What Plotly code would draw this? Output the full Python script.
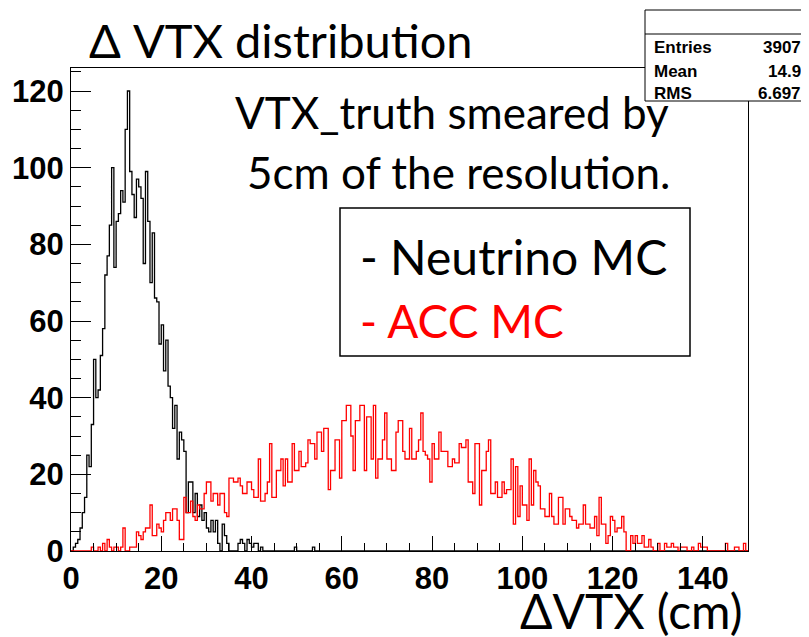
import plotly.graph_objects as go

# ---------------- data ----------------
X_MIN, X_MAX, BIN_WIDTH = 0.0, 150.0, 0.5

neutrino_mc = [
    0, 1, 2, 3, 6, 10, 14, 25, 22, 33,
    50, 40, 42, 51, 58, 72, 77, 85, 100, 74,
    86, 88, 94, 91, 110, 120, 99, 93, 87, 97,
    95, 92, 75, 99, 86, 70, 83, 66, 65, 54,
    59, 47, 55, 43, 40, 32, 38, 24, 31, 29,
    26, 10, 18, 18, 10, 15, 9, 12, 8, 10,
    6, 5, 8, 5, 8, 2, 0, 7, 4, 2,
    0, 0, 0, 0, 2, 3, 2, 0, 3, 2,
    1, 2, 2, 0, 1, 0, 0, 0, 0, 0,
    0, 0, 0, 0, 0, 0, 0, 0, 0, 1,
    0, 0, 0, 0, 0, 0, 0, 1, 0, 0,
    0, 0, 0, 0, 0, 0, 0, 0, 0, 0,
    0, 0, 0, 0, 0, 0, 0, 0, 0, 0,
    0, 0, 0, 0, 0, 0, 0, 0, 0, 0,
    0, 0, 0, 0, 0, 0, 0, 0, 0, 0,
    0, 0, 0, 0, 0, 0, 0, 0, 0, 0,
    0, 0, 0, 0, 0, 0, 0, 0, 0, 0,
    0, 0, 0, 0, 0, 0, 0, 0, 0, 0,
    0, 0, 0, 0, 0, 0, 0, 0, 0, 0,
    0, 0, 0, 0, 0, 0, 0, 0, 0, 0,
    0, 0, 0, 0, 0, 0, 0, 0, 0, 0,
    0, 0, 0, 0, 0, 0, 0, 0, 0, 0,
    0, 0, 0, 0, 0, 0, 0, 0, 0, 0,
    0, 0, 0, 0, 0, 0, 0, 0, 0, 0,
    0, 0, 0, 0, 0, 0, 0, 0, 0, 0,
    0, 0, 0, 0, 0, 0, 0, 0, 0, 0,
    0, 0, 0, 0, 0, 0, 0, 0, 0, 0,
    0, 0, 0, 0, 0, 0, 0, 0, 0, 0,
    0, 0, 0, 0, 0, 0, 0, 0, 0, 0,
    0, 0, 0, 0, 0, 0, 0, 0, 0, 0,
]

acc_mc = [
    0, 0, 0, 0, 0, 0, 0, 0, 0, 1,
    0, 0, 1, 0, 2, 0, 3, 1, 0, 1,
    1, 0, 1, 6, 0, 0, 1, 1, 1, 5,
    4, 3, 5, 6, 6, 12, 4, 4, 7, 6,
    5, 8, 10, 10, 8, 11, 11, 8, 3, 3,
    14, 10, 10, 13, 9, 8, 12, 11, 11, 15,
    18, 18, 13, 15, 15, 12, 15, 15, 10, 9,
    19, 19, 18, 18, 19, 17, 15, 15, 18, 18,
    16, 14, 14, 24, 13, 13, 15, 18, 28, 14,
    14, 21, 21, 24, 17, 24, 18, 18, 28, 21,
    21, 26, 22, 22, 23, 29, 28, 28, 24, 31,
    31, 26, 32, 32, 16, 21, 21, 29, 29, 19,
    34, 34, 38, 38, 30, 21, 34, 34, 38, 38,
    21, 35, 35, 24, 38, 19, 24, 24, 29, 36,
    24, 24, 21, 21, 31, 34, 34, 26, 24, 24,
    32, 24, 24, 26, 29, 36, 26, 25, 24, 18,
    28, 24, 24, 31, 26, 26, 26, 22, 22, 24,
    23, 23, 28, 27, 27, 29, 18, 18, 15, 28,
    28, 12, 21, 21, 26, 29, 15, 15, 18, 14,
    14, 18, 15, 16, 16, 24, 7, 22, 9, 17,
    12, 12, 8, 24, 12, 21, 18, 17, 11, 11,
    9, 9, 15, 9, 7, 7, 14, 14, 7, 11,
    11, 9, 8, 8, 6, 7, 7, 12, 7, 7,
    6, 6, 9, 4, 14, 7, 7, 2, 4, 9,
    8, 5, 6, 6, 9, 5, 0, 0, 4, 2,
    4, 2, 2, 4, 1, 1, 3, 1, 0, 0,
    2, 0, 0, 2, 1, 1, 2, 1, 1, 0,
    1, 1, 1, 0, 0, 1, 0, 0, 2, 1,
    1, 1, 0, 0, 0, 0, 0, 0, 0, 0,
    2, 0, 0, 0, 1, 1, 0, 0, 2, 0,
]

y_tick_vals = [0, 20, 40, 60, 80, 100, 120]
x_tick_vals = [0, 20, 40, 60, 80, 100, 120, 140]

stats_labels = ["Entries", "Mean", "RMS"]
stats_values = ["3907", "14.9", "6.697"]

# ---------------- figure ----------------
# the page body has an 8px margin, so the figure is shrunk by 8px and all
# reference pixel positions are mapped through the plot-area fractions below
OFF = 8
W, H = 809 - OFF, 637 - OFF
L, R, T, B = 71, 748, 68, 551  # plot area in reference (page) pixels


def px(x):
    return (x - L) / (R - L)


def py(y):
    return (B - y) / (B - T)


def step_xy(values):
    xs = [X_MIN + i * BIN_WIDTH for i in range(len(values))] + [X_MAX]
    ys = list(values) + [values[-1]]
    return xs, ys


fig = go.Figure()
for vals, col in [(neutrino_mc, "black"), (acc_mc, "#ff0000")]:
    xs, ys = step_xy(vals)
    fig.add_trace(go.Scatter(x=xs, y=ys, mode="lines", line=dict(color=col, width=1.3, shape="hv"),
                             showlegend=False, hoverinfo="skip"))

tick_font = dict(family="Liberation Sans", size=31, color="black", weight="bold")
fig.update_xaxes(range=[X_MIN, X_MAX], tickvals=x_tick_vals, ticks="inside", ticklen=15, tickwidth=1,
                 tickcolor="black", showline=True, linecolor="black", linewidth=1, mirror=True,
                 showgrid=False, zeroline=False, tickfont=tick_font, automargin=False,
                 minor=dict(dtick=5, ticks="inside", ticklen=8, tickcolor="black", tickwidth=1, showgrid=False))
fig.update_yaxes(range=[0, 126], tickvals=y_tick_vals, ticks="inside", ticklen=20, tickwidth=1,
                 tickcolor="black", showline=True, linecolor="black", linewidth=1, mirror=True,
                 showgrid=False, zeroline=False, tickfont=tick_font, automargin=False,
                 minor=dict(dtick=5, ticks="inside", ticklen=10, tickcolor="black", tickwidth=1, showgrid=False))

txt_font = "Lato"
ann = []
ann.append(dict(text="Δ VTX distribution", x=px(87), y=py(40), xanchor="left", yanchor="middle",
                font=dict(family=txt_font, size=47, color="black")))
ann.append(dict(text="VTX_truth smeared by", x=px(452), y=py(112), xanchor="center", yanchor="middle",
                font=dict(family=txt_font, size=44, color="black")))
ann.append(dict(text="5cm of the resolution.", x=px(458), y=py(172), xanchor="center", yanchor="middle",
                font=dict(family=txt_font, size=44, color="black")))
ann.append(dict(text="- Neutrino MC", x=px(358), y=py(256), xanchor="left", yanchor="middle",
                font=dict(family=txt_font, size=48, color="black")))
ann.append(dict(text="- ACC MC", x=px(358), y=py(320), xanchor="left", yanchor="middle",
                font=dict(family=txt_font, size=46, color="#ff0000")))
ann.append(dict(text="ΔVTX (cm)", x=px(745), y=py(610), xanchor="right", yanchor="middle",
                font=dict(family=txt_font, size=48, color="black")))
row_y = [47, 71, 94]
for lab, val, yy in zip(stats_labels, stats_values, row_y):
    ann.append(dict(text=lab, x=px(652), y=py(yy), xanchor="left", yanchor="middle",
                    font=dict(family="Liberation Sans", size=17, color="black", weight="bold")))
    ann.append(dict(text=val, x=px(803), y=py(yy), xanchor="right", yanchor="middle",
                    font=dict(family="Liberation Sans", size=17, color="black", weight="bold")))
for a in ann:
    a.update(xref="paper", yref="paper", showarrow=False)

shapes = [
    dict(type="rect", xref="paper", yref="paper", x0=px(340), x1=px(690), y0=py(356), y1=py(208),
         line=dict(color="black", width=1.5), fillcolor="rgba(0,0,0,0)", layer="above"),
    dict(type="rect", xref="paper", yref="paper", x0=px(645), x1=px(815), y0=py(101), y1=py(10),
         line=dict(color="black", width=1), fillcolor="white", layer="above"),
    dict(type="line", xref="paper", yref="paper", x0=px(645), x1=px(815), y0=py(34), y1=py(34),
         line=dict(color="black", width=1), layer="above"),
]

fig.update_layout(width=W, height=H,
                  margin=dict(l=L - OFF, r=W - (R - OFF), t=T - OFF, b=H - (B - OFF)),
                  paper_bgcolor="white", plot_bgcolor="white", annotations=ann, shapes=shapes,
                  showlegend=False)

fig.write_html("out.html")
